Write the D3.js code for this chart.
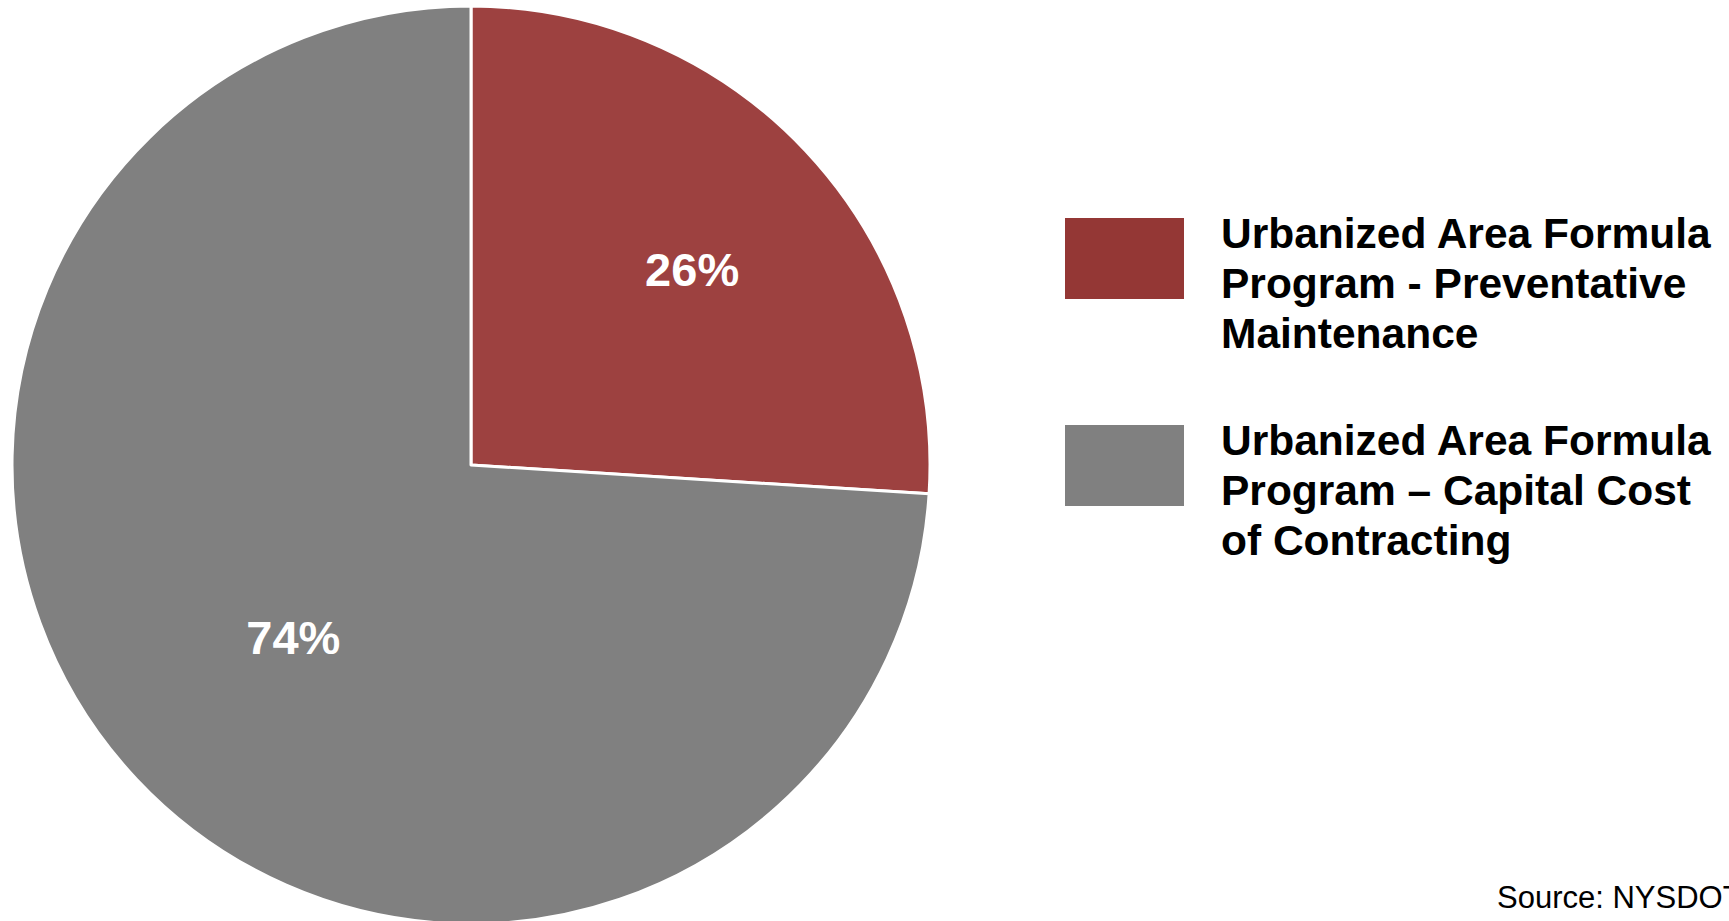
<!DOCTYPE html>
<html>
<head>
<meta charset="utf-8">
<title>Urbanized Area Formula Program</title>
<script src="https://cdn.jsdelivr.net/npm/d3@7"></script>
<style>
  body { margin: 0; background: #ffffff; }
  svg { display: block; }
</style>
</head>
<body>
<div id="chart"></div>
<script>
// Slice data
const categories = [
  ['Urbanized Area Formula', 'Program - Preventative', 'Maintenance'],
  ['Urbanized Area Formula', 'Program \u2013 Capital Cost', 'of Contracting']
];
const values = [26, 74];
const sliceColors = ['#9d4140', '#808080'];
const legendColors = ['#943735', '#808080'];
const sourceText = 'Source: NYSDOT';

// Chart dimensions
const width = 1729;
const height = 921;
const cx = 471;
const cy = 465;
const radius = 459;
// label placement: fraction of radius along the slice middle, plus a small nudge
const labelRadius = [0.64, 0.54];
const labelNudge = [[7, 5], [3, 2]];

const svg = d3.select('#chart')
  .append('svg')
  .attr('width', width)
  .attr('height', height)
  .attr('viewBox', [0, 0, width, height]);

svg.append('rect')
  .attr('width', width)
  .attr('height', height)
  .attr('fill', '#ffffff');

const pie = d3.pie().sort(null).value(d => d);
const arcs = pie(values);

const arc = d3.arc().innerRadius(0).outerRadius(radius);

const g = svg.append('g')
  .attr('transform', `translate(${cx},${cy})`);

// Slices
g.selectAll('path')
  .data(arcs)
  .join('path')
  .attr('d', arc)
  .attr('fill', (d, i) => sliceColors[i])
  .attr('stroke', '#ffffff')
  .attr('stroke-width', 3)
  .attr('stroke-linejoin', 'round');

// Percent labels
g.selectAll('text.pct')
  .data(arcs)
  .join('text')
  .attr('class', 'pct')
  .attr('transform', (d, i) => {
    const r = radius * labelRadius[i];
    const [x, y] = d3.arc().innerRadius(r).outerRadius(r).centroid(d);
    return `translate(${x + labelNudge[i][0]},${y + labelNudge[i][1]})`;
  })
  .attr('text-anchor', 'middle')
  .attr('dy', '0.36em')
  .attr('fill', '#ffffff')
  .style('font-family', 'Arial, "Liberation Sans", sans-serif')
  .style('font-weight', 'bold')
  .style('font-size', '47px')
  .text(d => `${d.data}%`);

// Legend
const legendX = 1065;
const legendTop = [218, 425];
const legend = svg.append('g');

categories.forEach((lines, i) => {
  const item = legend.append('g')
    .attr('transform', `translate(${legendX},${legendTop[i]})`);

  item.append('rect')
    .attr('width', 119)
    .attr('height', 81)
    .attr('fill', legendColors[i]);

  const t = item.append('text')
    .attr('x', 156)
    .attr('y', 30)
    .attr('fill', '#000000')
    .style('font-family', 'Arial, "Liberation Sans", sans-serif')
    .style('font-weight', 'bold')
    .style('font-size', '42.5px');

  lines.forEach((line, j) => {
    t.append('tspan')
      .attr('x', 156)
      .attr('dy', j === 0 ? 0 : 50)
      .text(line);
  });
});

// Source note (runs off the right edge like the original)
svg.append('text')
  .attr('x', 1497)
  .attr('y', 908)
  .attr('fill', '#000000')
  .style('font-family', 'Arial, "Liberation Sans", sans-serif')
  .style('font-size', '31px')
  .text(sourceText);
</script>
</body>
</html>
